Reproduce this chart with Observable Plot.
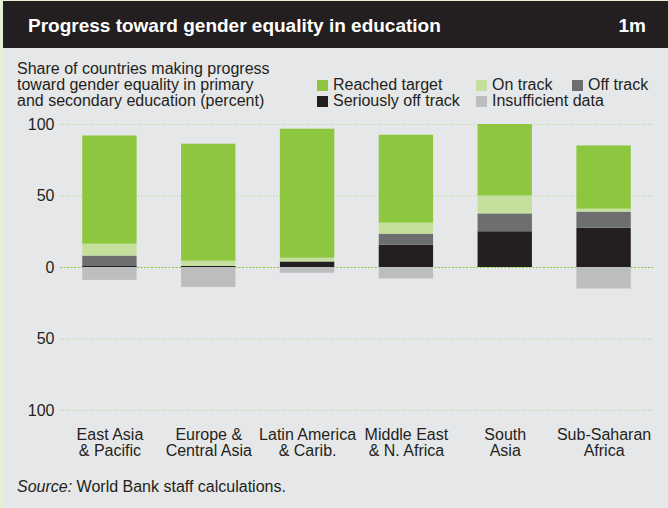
<!DOCTYPE html>
<html>
<head>
<meta charset="utf-8">
<script src="https://cdn.jsdelivr.net/npm/d3@7"></script>
<script src="https://cdn.jsdelivr.net/npm/@observablehq/plot@0.6"></script>
<style>
  html, body { margin: 0; padding: 0; }
  body { width: 668px; height: 508px; background: #e6e7e8; position: relative; overflow: hidden;
         font-family: "Liberation Sans", Arial, sans-serif; color: #231f20; }
  .abs { position: absolute; white-space: nowrap; }
  #stripeL { left: 0; top: 0; width: 3px; height: 508px; background: #e4f1d4; }
  #stripeT { left: 0; top: 0; width: 668px; height: 1px; background: #e4f1d4; }
  #bar { left: 3px; top: 1px; width: 665px; height: 47px; background: #231f20; }
  .title { font-size: 19px; line-height: 19px; font-weight: bold; color: #fff; }
  .t16 { font-size: 16px; line-height: 16px; }
  .sw { width: 11px; height: 11px; }
  #chart { left: 0; top: 110px; }
</style>
</head>
<body>
<div class="abs" id="stripeL"></div>
<div class="abs" id="stripeT"></div>
<div class="abs" id="bar"></div>
<div class="abs title" style="left:28px; top:16px;">Progress toward gender equality in education</div>
<div class="abs title" style="right:22px; top:16px;">1m</div>
<div class="abs t16" style="left:17px; top:60.5px;">Share of countries making progress<br>toward gender equality in primary<br>and secondary education (percent)</div>
<div id="legend"></div>
<div class="abs" id="chart"></div>
<div class="abs t16" style="left:17px; top:478.5px;"><i>Source:</i> World Bank staff calculations.</div>
<script>
// ---- data ----
const regions = ["East Asia\n& Pacific", "Europe &\nCentral Asia", "Latin America\n& Carib.", "Middle East\n& N. Africa", "South\nAsia", "Sub-Saharan\nAfrica"];
const statuses = ["Seriously off track", "Off track", "On track", "Reached target", "Insufficient data"];
const statusColors = ["#231f20", "#6d6e70", "#c5e09d", "#8dc63f", "#bcbdbf"];
const seriouslyOff = [0.7, 0.7, 3.5, 15.6, 25, 27.5];
const offTrack = [7.3, 0, 0.5, 7.7, 12.5, 11.2];
const onTrack = [8.3, 3.7, 2.5, 7.7, 12.5, 2.1];
const reached = [75.7, 81.8, 90.2, 61.5, 50, 44.2];
const insufficient = [9, 14, 4, 8, 0, 15];
const yTicks = [-100, -50, 0, 50, 100];
const legendOrder = ["Reached target", "On track", "Off track", "Seriously off track", "Insufficient data"];

const seriesValues = {
  "Seriously off track": seriouslyOff,
  "Off track": offTrack,
  "On track": onTrack,
  "Reached target": reached,
  "Insufficient data": insufficient.map(v => -v)
};
const rows = [];
for (const s of statuses) regions.forEach((r, i) => rows.push({region: r, status: s, value: seriesValues[s][i]}));

// ---- legend (HTML) ----
const legendPos = [
  {x: 317, y: 80}, {x: 476, y: 80}, {x: 572, y: 80},
  {x: 317, y: 96}, {x: 476, y: 96}
];
const legend = document.getElementById("legend");
legendOrder.forEach((s, i) => {
  const p = legendPos[i];
  const sw = document.createElement("div");
  sw.className = "abs sw";
  sw.style.left = p.x + "px"; sw.style.top = p.y + "px";
  sw.style.background = statusColors[statuses.indexOf(s)];
  legend.appendChild(sw);
  const t = document.createElement("div");
  t.className = "abs t16";
  t.style.left = (p.x + 16) + "px"; t.style.top = (p.y - 3.5) + "px";
  t.textContent = s;
  legend.appendChild(t);
});

// ---- chart ----
const chart = Plot.plot({
  width: 668,
  height: 360,
  marginTop: 14,
  marginBottom: 60,
  marginLeft: 60,
  marginRight: 15,
  style: {background: "transparent", color: "#231f20", fontSize: "16px", fontFamily: "'Liberation Sans', Arial, sans-serif", overflow: "visible"},
  x: {type: "band", domain: regions, paddingInner: 0.45, paddingOuter: 0.225, round: false, label: null},
  y: {domain: [-100, 100], label: null},
  color: {domain: statuses, range: statusColors},
  marks: [
    Plot.ruleY([100, 50, -50, -100], {stroke: "#b3d584", strokeDasharray: "1,2"}),
    Plot.ruleY([0], {stroke: "#8dc63f", strokeDasharray: "2,1.5"}),
    Plot.barY(rows, {x: "region", y: "value", fill: "status", order: statuses}),
    Plot.axisY({ticks: yTicks, tickFormat: d => Math.abs(d), tickSize: 0, tickPadding: 6, label: null}),
    Plot.axisX({tickSize: 0, tickPadding: 18.6, lineHeight: 1, label: null})
  ]
});
document.getElementById("chart").appendChild(chart);
</script>
</body>
</html>
